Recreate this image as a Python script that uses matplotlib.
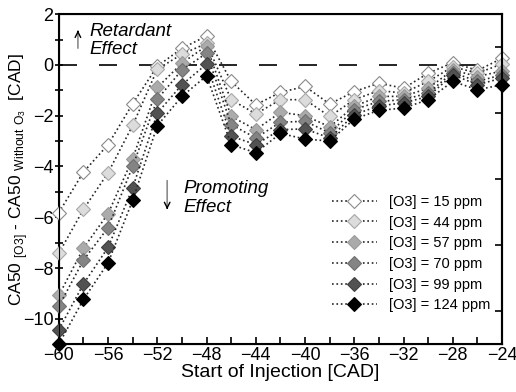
import matplotlib.pyplot as plt
import numpy as np

plt.rcParams['font.family'] = ['Liberation Sans', 'DejaVu Sans']
plt.rcParams['mathtext.fontset'] = 'custom'
plt.rcParams['mathtext.rm'] = 'Liberation Sans'

# start of injection [CAD]
soi = [-60, -58, -56, -54, -52, -50, -48, -46, -44, -42,
       -40, -38, -36, -34, -32, -30, -28, -26, -24]

# CA50 shift for each ozone level [CAD]
o3_15 = [-5.82, -4.22, -3.14, -1.53, -0.05, 0.65, 1.14, -0.65, -1.57, -1.08,
         -0.85, -1.54, -1.05, -0.72, -0.92, -0.33, 0.09, -0.22, 0.26]
o3_44 = [-7.42, -5.69, -4.25, -2.38, -0.17, 0.42, 0.85, -1.37, -1.93, -1.37,
         -1.37, -2.03, -1.37, -1.01, -1.11, -0.65, -0.07, -0.33, 0.04]
o3_57 = [-9.08, -7.22, -5.86, -3.69, -0.89, 0.07, 0.75, -2.03, -2.55, -1.87,
         -2.00, -2.44, -1.63, -1.24, -1.24, -0.92, -0.20, -0.46, -0.24]
o3_70 = [-9.51, -7.69, -6.41, -3.99, -1.35, -0.20, 0.46, -2.35, -2.88, -2.26,
         -2.22, -2.68, -1.76, -1.44, -1.37, -1.11, -0.30, -0.65, -0.39]
o3_99 = [-10.43, -8.63, -7.19, -4.84, -1.90, -0.78, 0.03, -2.81, -3.14, -2.55,
         -2.52, -2.88, -1.96, -1.61, -1.50, -1.24, -0.39, -0.78, -0.52]
o3_124 = [-11.0, -9.24, -7.80, -5.33, -2.39, -1.24, -0.43, -3.14, -3.46, -2.70,
          -2.92, -3.00, -2.13, -1.79, -1.70, -1.37, -0.65, -0.98, -0.78]

series = [o3_15, o3_44, o3_57, o3_70, o3_99, o3_124]
labels = ['[O3] = 15 ppm', '[O3] = 44 ppm', '[O3] = 57 ppm',
          '[O3] = 70 ppm', '[O3] = 99 ppm', '[O3] = 124 ppm']
faces = ['white', '#dcdcdc', '#ababab', '#848484', '#525252', 'black']
edges = ['#8a8a8a', '#a8a8a8', '#9a9a9a', '#707070', '#404040', 'black']

fig = plt.figure(figsize=(5.16, 3.92), dpi=100)
ax = fig.add_axes([0.114, 0.122, 0.859, 0.842])

ax.axhline(0, color='black', lw=1.2, linestyle=(0, (10.8, 13.2)), zorder=1)

for y, lab, fc, ec in zip(series, labels, faces, edges):
    ax.plot(soi, y, linestyle=':', color='0.15', lw=1.2, marker='D',
            markersize=7, markerfacecolor=fc, markeredgecolor=ec,
            markeredgewidth=0.8, label=lab, clip_on=False, zorder=3)

ax.set_xlim(-60, -24)
ax.set_ylim(-11, 2)
ax.set_xticks(np.arange(-60, -23, 4))
ax.set_xticks(np.arange(-60, -23, 2), minor=True)
ax.set_yticks(np.arange(-10, 3, 2))
ax.set_yticks(np.arange(-11, 3, 1), minor=True)
ax.tick_params(axis='x', which='both', direction='in', length=5, width=1.2,
               labelsize=13, pad=2, top=False)
ax.tick_params(axis='y', which='both', direction='inout', length=6, width=1.2,
               labelsize=13, pad=1, right=False)
for s in ax.spines.values():
    s.set_linewidth(1.5)

# right spine ticks (as in the original figure)
ax2 = ax.twinx()
ax2.set_ylim(-11, 2)
ax2.set_yticks([0.72, -1.9, -4.5, -7.1, -9.7])
ax2.set_yticklabels([])
ax2.tick_params(direction='in', length=5, width=1.2)
ax2.spines['right'].set_linewidth(1.5)

ax.set_xlabel('Start of Injection [CAD]', fontsize=14, labelpad=0)
ax.set_ylabel(r'CA50 $_{\mathregular{[O3]}}$ - CA50 $_{\mathregular{Without\ O_3}}$  [CAD]',
              fontsize=12.5)
ax.yaxis.set_label_coords(-0.064, 0.5)

# effect annotations
ax.text(-57.55, 0.96, 'Retardant\nEffect', fontsize=13.5, style='italic',
        va='center', ha='left', linespacing=1.15)
ax.annotate('', xy=(-58.45, 1.42), xytext=(-58.45, 0.55),
            arrowprops=dict(arrowstyle='-', color='0.55', lw=1.2))
ax.annotate('', xy=(-58.45, 1.47), xytext=(-58.45, 1.2),
            arrowprops=dict(arrowstyle='->', color='black', lw=1.0))

ax.text(-49.9, -5.24, 'Promoting\nEffect', fontsize=13.5, style='italic',
        va='center', ha='left', linespacing=1.15)
ax.annotate('', xy=(-51.2, -5.75), xytext=(-51.2, -4.45),
            arrowprops=dict(arrowstyle='-', color='0.55', lw=1.2))
ax.annotate('', xy=(-51.2, -5.8), xytext=(-51.2, -5.5),
            arrowprops=dict(arrowstyle='->', color='black', lw=1.0))

ax.legend(loc='upper right', bbox_to_anchor=(0.986, 0.47), frameon=False,
          fontsize=10.5, handlelength=3.1, labelspacing=0.46, handletextpad=0.8,
          borderaxespad=0)

fig.savefig('out.png', dpi=100)
